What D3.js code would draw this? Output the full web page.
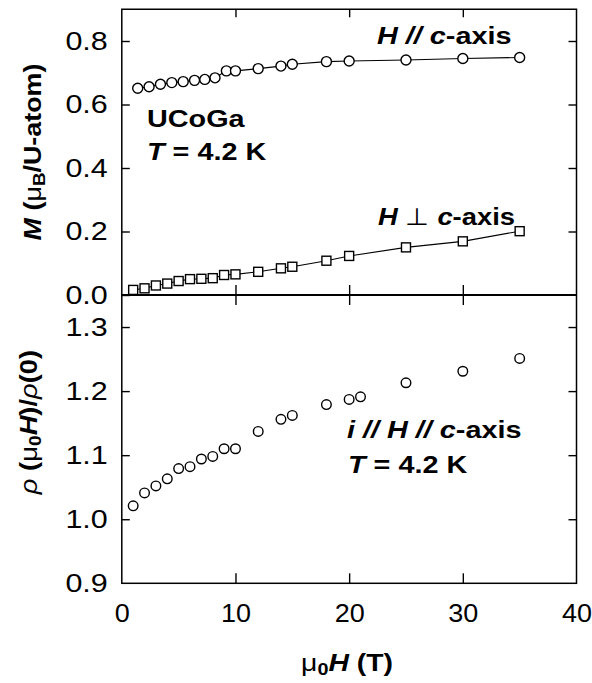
<!DOCTYPE html>
<html><head><meta charset="utf-8">
<script src="https://cdn.jsdelivr.net/npm/d3@7"></script>
<style>
body{margin:0;background:#fff;}
svg{display:block;}
text{font-family:"Liberation Sans",Arial,Helvetica,sans-serif;fill:#000;}
</style></head>
<body>
<svg id="chart" width="592" height="683"></svg>
<script>
// ---- data ----
const fieldPar = [1.4,2.4,3.4,4.4,5.4,6.4,7.3,8.2,9.2,10,12,14,15,18,20,25,30,35];
const magPar   = [0.651,0.656,0.664,0.669,0.672,0.676,0.679,0.684,0.706,0.706,0.713,0.721,0.727,0.735,0.737,0.740,0.745,0.748];
const fieldPerp = [1,2,3,4,5,6,7,8,9,10,12,14,15,18,20,25,30,35];
const magPerp   = [0.016,0.021,0.030,0.036,0.044,0.050,0.051,0.053,0.063,0.065,0.073,0.084,0.089,0.108,0.123,0.150,0.169,0.201];
const fieldRho = [1,2,3,4,5,6,7,8,9,10,12,14,15,18,20,21,25,30,35];
const rhoRatio = [1.021,1.041,1.052,1.063,1.079,1.082,1.094,1.098,1.110,1.110,1.137,1.156,1.162,1.179,1.187,1.191,1.213,1.231,1.251];
const xTicks = [0,10,20,30,40];
const yTopTicks = [0.0,0.2,0.4,0.6,0.8];
const yBotTicks = [0.9,1.0,1.1,1.2,1.3];

const svg = d3.select("#chart");
const L = 121.8, R = 576.5, T = 9.25, MID = 295, B = 583.3;
const x = d3.scaleLinear().domain([0,40]).range([L,R]);
const yTop = d3.scaleLinear().domain([0,0.9]).range([MID,T]);
const yBot = d3.scaleLinear().domain([0.9,1.35]).range([B,MID]);
const FS = 25;

function stretchTicks(g, sx){
  g.selectAll(".tick text").each(function(){
    const t = d3.select(this);
    const tx = +t.attr("x") || 0;
    t.attr("x",0).attr("transform",`translate(${tx},0) scale(${sx},1)`);
  });
}
function styleAxis(g){
  g.select(".domain").remove();
  g.selectAll("line").attr("stroke","#000").attr("stroke-width",1.4);
  g.selectAll("text").attr("font-size",FS).attr("font-family",'"Liberation Sans",Arial,sans-serif');
}

// top panel axes
svg.append("g").attr("transform",`translate(${L},0)`)
  .call(d3.axisLeft(yTop).tickValues(yTopTicks).tickSize(-8).tickPadding(14).tickFormat(d3.format(".1f")))
  .call(styleAxis).call(g=>stretchTicks(g,1.22));
svg.append("g").attr("transform",`translate(${R},0)`)
  .call(d3.axisRight(yTop).tickValues(yTopTicks.filter(d=>d>0)).tickSize(-8).tickFormat(""))
  .call(styleAxis);
svg.append("g").attr("transform",`translate(0,${T})`)
  .call(d3.axisTop(x).tickValues([10,20,30]).tickSize(-8).tickFormat(""))
  .call(styleAxis);
svg.append("g").attr("transform",`translate(0,${MID})`)
  .call(d3.axisBottom(x).tickValues([10,20,30]).tickSize(-10).tickFormat(""))
  .call(styleAxis);

// bottom panel axes
svg.append("g").attr("transform",`translate(${L},0)`)
  .call(d3.axisLeft(yBot).tickValues(yBotTicks).tickSize(-8).tickPadding(14).tickFormat(d3.format(".1f")))
  .call(styleAxis).call(g=>stretchTicks(g,1.22))
  .call(g=>g.selectAll(".tick").filter(d=>d===0.9).select("line").remove());
svg.append("g").attr("transform",`translate(${R},0)`)
  .call(d3.axisRight(yBot).tickValues(yBotTicks.filter(d=>d>0.9)).tickSize(-8).tickFormat(""))
  .call(styleAxis);
svg.append("g").attr("transform",`translate(0,${MID})`)
  .call(d3.axisTop(x).tickValues([10,20,30]).tickSize(-10).tickFormat(""))
  .call(styleAxis);
svg.append("g").attr("transform",`translate(0,${B})`)
  .call(d3.axisBottom(x).tickValues(xTicks).tickSize(-10).tickPadding(21).tickFormat(d3.format("d")))
  .call(styleAxis).call(g=>stretchTicks(g,1.08))
  .call(g=>g.selectAll(".tick").filter(d=>d===0||d===40).select("line").remove());

// frames
svg.append("rect").attr("x",L).attr("y",T).attr("width",R-L).attr("height",B-T)
  .attr("fill","none").attr("stroke","#000").attr("stroke-width",1.5);
svg.append("line").attr("x1",L).attr("x2",R).attr("y1",MID).attr("y2",MID)
  .attr("stroke","#000").attr("stroke-width",2.2);

// lines
const linePar = d3.line().x((d,i)=>x(fieldPar[i])).y(d=>yTop(d));
const linePerp = d3.line().x((d,i)=>x(fieldPerp[i])).y(d=>yTop(d));
svg.append("path").attr("d",linePar(magPar)).attr("fill","none").attr("stroke","#000").attr("stroke-width",1.1);
svg.append("path").attr("d",linePerp(magPerp)).attr("fill","none").attr("stroke","#000").attr("stroke-width",1.1);

// markers
svg.append("g").selectAll("circle").data(magPar).join("circle")
  .attr("cx",(d,i)=>x(fieldPar[i])).attr("cy",d=>yTop(d)).attr("r",5)
  .attr("fill","#fff").attr("stroke","#000").attr("stroke-width",1.4);
const S = 9;
svg.append("g").selectAll("rect").data(magPerp).join("rect")
  .attr("x",(d,i)=>x(fieldPerp[i])-S/2).attr("y",d=>yTop(d)-S/2).attr("width",S).attr("height",S)
  .attr("fill","#fff").attr("stroke","#000").attr("stroke-width",1.4);
svg.append("g").selectAll("circle").data(rhoRatio).join("circle")
  .attr("cx",(d,i)=>x(fieldRho[i])).attr("cy",d=>yBot(d)).attr("r",4.8)
  .attr("fill","#fff").attr("stroke","#000").attr("stroke-width",1.4);

// annotations
function rich(parts, opts){
  const fs = opts.fs||FS;
  const t = svg.append("text").attr("font-size",fs).attr("font-weight","bold");
  if(opts.anchor) t.attr("text-anchor",opts.anchor);
  parts.forEach(p=>{
    const s = t.append("tspan").text(p.t);
    if(p.i) s.attr("font-style","italic");
    if(p.n) s.attr("font-weight","normal");
    if(p.sub) s.attr("font-size",fs*0.7).attr("baseline-shift","-22%");
  });
  const sx = opts.sx||1;
  t.attr("transform",`translate(${opts.x},${opts.y})`+(opts.rot?` rotate(${opts.rot})`:"")+` scale(${sx},1)`);
  return t;
}
const A = 24, SX = 1.2;
rich([{t:"H",i:1},{t:" // ",i:1},{t:"c",i:1},{t:"-axis"}],{x:377,y:44,fs:A,sx:SX});
rich([{t:"UCoGa"}],{x:147,y:127,fs:A,sx:SX});
rich([{t:"T",i:1},{t:" = 4.2 K"}],{x:147,y:160,fs:A,sx:SX});
rich([{t:"H",i:1},{t:" \u22A5 ",n:1},{t:"c",i:1},{t:"-axis"}],{x:378,y:225,fs:A,sx:1.14});
rich([{t:"i",i:1},{t:" // ",i:1},{t:"H",i:1},{t:" // ",i:1},{t:"c",i:1},{t:"-axis"}],{x:347,y:438,fs:A,sx:SX});
rich([{t:"T",i:1},{t:" = 4.2 K"}],{x:348,y:473,fs:A,sx:SX});

// axis titles
rich([{t:"\u03BC",n:1},{t:"0",sub:1},{t:"H",i:1},{t:" (T)"}],{anchor:"middle",x:347,y:671,fs:24,sx:1.18});
rich([{t:"M",i:1},{t:" ("},{t:"\u03BC",n:1},{t:"B",sub:1},{t:"/U-atom)"}],{anchor:"middle",x:41,y:152,rot:-90,fs:24,sx:1.12});
rich([{t:"\u03C1",i:1,n:1},{t:" ("},{t:"\u03BC",n:1},{t:"0",sub:1},{t:"H",i:1},{t:")/"},{t:"\u03C1",i:1,n:1},{t:"(0)"}],{anchor:"middle",x:37,y:422,rot:-90,fs:24,sx:1.14});
</script>
</body></html>
